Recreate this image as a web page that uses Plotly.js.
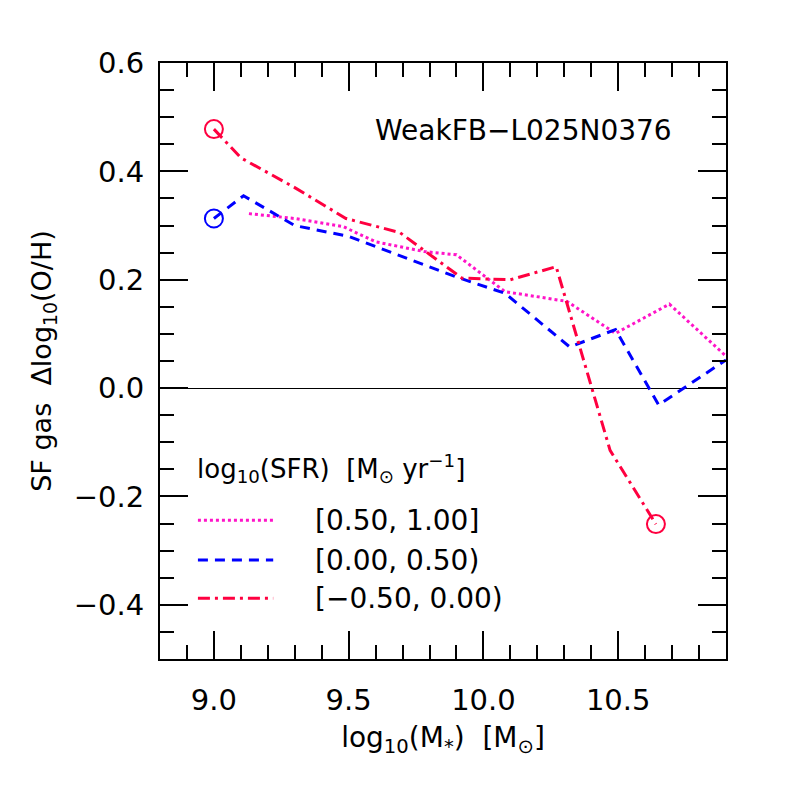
<!DOCTYPE html>
<html>
<head>
<meta charset="utf-8">
<script src="https://cdn.plot.ly/plotly-3.0.1.min.js"></script>
<style>
  html, body { margin: 0; padding: 0; background: #fff; }
  #plot { width: 786px; height: 786px; }
</style>
</head>
<body>
<div id="plot"></div>
<script>
// ====== Data ======
// log10(SFR) in [0.50, 1.00]
var magX = [9.13, 9.30, 9.48, 9.60, 9.78, 9.90, 10.08, 10.31, 10.49, 10.69, 10.90];
var magY = [0.322, 0.313, 0.298, 0.270, 0.252, 0.246, 0.178, 0.160, 0.101, 0.155, 0.059];
// log10(SFR) in [0.00, 0.50)
var bluX = [9.00, 9.11, 9.30, 9.50, 9.90, 10.08, 10.32, 10.49, 10.65, 10.90];
var bluY = [0.313, 0.355, 0.300, 0.280, 0.205, 0.175, 0.076, 0.108, -0.031, 0.052];
// log10(SFR) in [-0.50, 0.00)
var redX = [9.00, 9.10, 9.30, 9.49, 9.69, 9.92, 10.10, 10.27, 10.47, 10.64];
var redY = [0.478, 0.425, 0.370, 0.313, 0.287, 0.203, 0.200, 0.224, -0.115, -0.251];

var legendTitle = 'log<sub>10</sub>(SFR)  [M<sub>⊙</sub> yr<sup>−1</sup>]';
var legendLabels = ['[0.50, 1.00]', '[0.00, 0.50)', '[−0.50, 0.00)'];
var runName = 'WeakFB−L025N0376';

// ====== Styles ======
var FONT = 'DejaVu Sans, Liberation Sans, sans-serif';
var styles = [
  { color: '#ff14c8', dash: '3px,3px' },
  { color: '#0000ff', dash: '10px,7px' },
  { color: '#ff0040', dash: '12px,5px,3px,5px' }
];

function lineTrace(x, y, st) {
  return {
    x: x, y: y, type: 'scatter', mode: 'lines',
    line: { color: st.color, width: 3, dash: st.dash },
    showlegend: false, hoverinfo: 'skip'
  };
}
function circleTrace(x, y, color) {
  return {
    x: x, y: y, type: 'scatter', mode: 'markers',
    marker: { symbol: 'circle-open', size: 18, color: color, line: { color: color, width: 2 } },
    showlegend: false, hoverinfo: 'skip'
  };
}

var last = redX.length - 1;
var traces = [
  lineTrace(magX, magY, styles[0]),
  lineTrace(bluX, bluY, styles[1]),
  lineTrace(redX, redY, styles[2]),
  circleTrace([bluX[0]], [bluY[0]], styles[1].color),
  circleTrace([redX[0], redX[last]], [redY[0], redY[last]], styles[2].color)
];

// ====== Hand-made legend (long line samples, like the original) ======
var legRows = [0.233, 0.166, 0.102];
var shapes = [], annotations = [];
legendLabels.forEach(function (lab, i) {
  shapes.push({
    type: 'line', xref: 'paper', yref: 'paper',
    x0: 0.067, x1: 0.20, y0: legRows[i], y1: legRows[i],
    line: { color: styles[i].color, width: 3, dash: styles[i].dash }
  });
  annotations.push({
    xref: 'paper', yref: 'paper', x: 0.27, y: legRows[i],
    xanchor: 'left', yanchor: 'middle', showarrow: false,
    text: lab, font: { family: FONT, size: 28, color: '#000' }
  });
});
annotations.push({
  xref: 'paper', yref: 'paper', x: 0.062, y: 0.319,
  xanchor: 'left', yanchor: 'middle', showarrow: false,
  text: legendTitle, font: { family: FONT, size: 26, color: '#000' }
});
annotations.push({
  xref: 'paper', yref: 'paper', x: 0.908, y: 0.886,
  xanchor: 'right', yanchor: 'middle', showarrow: false,
  text: runName, font: { family: FONT, size: 28, color: '#000' }
});

var axisCommon = {
  showline: true, linecolor: '#000', linewidth: 2, mirror: 'allticks',
  ticks: 'inside', ticklen: 28, tickwidth: 2, tickcolor: '#000',
  showgrid: false, tickfont: { family: FONT, size: 29, color: '#000' }
};

var layout = {
  width: 786, height: 786,
  margin: { l: 160, r: 60, t: 63, b: 127 },
  paper_bgcolor: '#fff', plot_bgcolor: '#fff',
  font: { family: FONT, color: '#000' },
  showlegend: false,
  xaxis: Object.assign({}, axisCommon, {
    range: [8.8, 10.9], tickvals: [9.0, 9.5, 10.0, 10.5],
    ticktext: ['9.0', '9.5', '10.0', '10.5'],
    minor: { dtick: 0.1, ticks: 'inside', ticklen: 14, tickwidth: 2, tickcolor: '#000' },
    zeroline: false, ticklabelstandoff: 14,
    title: { text: 'log<sub>10</sub>(M<sub>*</sub>)  [M<sub>⊙</sub>]', font: { family: FONT, size: 28 }, standoff: 12 }
  }),
  yaxis: Object.assign({}, axisCommon, {
    range: [-0.5, 0.6], tickvals: [-0.4, -0.2, 0.0, 0.2, 0.4, 0.6],
    ticktext: ['−0.4', '−0.2', '0.0', '0.2', '0.4', '0.6'],
    minor: { dtick: 0.05, ticks: 'inside', ticklen: 14, tickwidth: 2, tickcolor: '#000' },
    zeroline: true, zerolinecolor: '#000', zerolinewidth: 1, ticklabelstandoff: 8,
    title: { text: 'SF gas  Δlog<sub>10</sub>(O/H)', font: { family: FONT, size: 27 }, standoff: 14 }
  }),
  shapes: shapes,
  annotations: annotations
};

Plotly.newPlot('plot', traces, layout, { displayModeBar: false, staticPlot: true });
</script>
</body>
</html>
